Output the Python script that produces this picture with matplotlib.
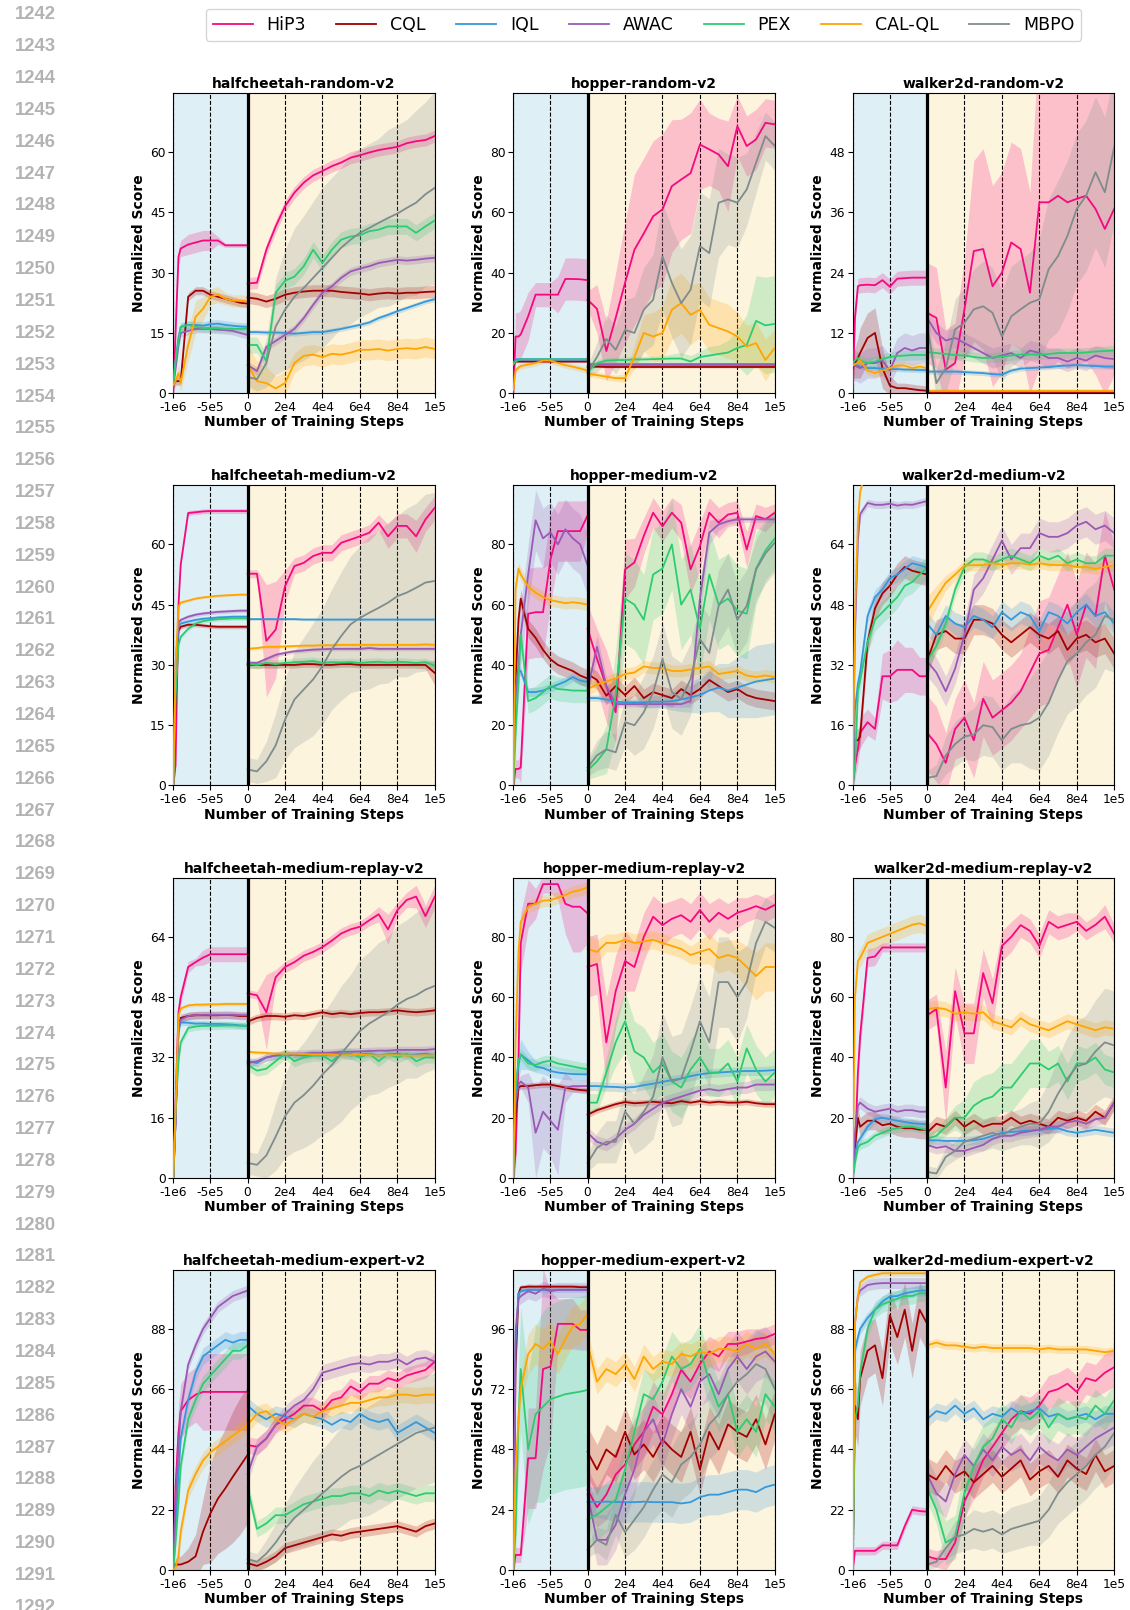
import numpy as np
import matplotlib
matplotlib.use("Agg")
import matplotlib.pyplot as plt
from matplotlib.lines import Line2D

# ---------------------------------------------------------------- categories
METHODS = ["HiP3", "CQL", "IQL", "AWAC", "PEX", "CAL-QL", "MBPO"]
KEYS = ["HIP3", "CQL", "IQL", "AWAC", "PEX", "CALQL", "MBPO"]
COLORS = ["#F7087F", "#A30000", "#3498DB", "#9B59B6", "#2ECC71", "#FFA500", "#7F8C8D"]

TITLES = ["halfcheetah-random-v2", "hopper-random-v2", "walker2d-random-v2",
          "halfcheetah-medium-v2", "hopper-medium-v2", "walker2d-medium-v2",
          "halfcheetah-medium-replay-v2", "hopper-medium-replay-v2", "walker2d-medium-replay-v2",
          "halfcheetah-medium-expert-v2", "hopper-medium-expert-v2", "walker2d-medium-expert-v2"]
ENV_KEYS = ["HCR", "HPR", "WKR", "HCM", "HPM", "WKM", "HCMR", "HPMR", "WKMR", "HCME", "HPME", "WKME"]
Y_STEPS = [15, 20, 12, 15, 20, 16, 16, 20, 20, 22, 24, 22]

X_TICKS = [-1000000, -500000, 0, 20000, 40000, 60000, 80000, 100000]
X_TICK_LABELS = ["-1e6", "-5e5", "0", "2e4", "4e4", "6e4", "8e4", "1e5"]

OFF_X = [-1000000, -970000, -930000, -900000, -800000, -700000, -600000,
         -500000, -400000, -300000, -200000, -100000, 0]
ON_X = [0, 5000, 10000, 15000, 20000, 25000, 30000, 35000, 40000, 45000, 50000,
        55000, 60000, 65000, 70000, 75000, 80000, 85000, 90000, 95000, 100000]

# ---------------------------------------------------------------- halfcheetah-random
HCR_HIP3_OFF = [0, 15, 34, 36, 37, 37.5, 38, 38, 38, 36.8, 36.8, 36.8, 36.8]
HCR_HIP3_OFF_SD = [0.5, 2, 2, 2, 2.5, 2.5, 2.5, 2.5, 1, 0.5, 0.5, 0.5, 0.5]
HCR_HIP3_ON = [27.3, 27.5, 35.7, 41.5, 46.5, 49.9, 52.4, 54.2, 55.3, 56.5, 57.4, 58.6, 59.2, 59.9, 60.5, 60.9, 61.3, 62.2, 62.7, 63.0, 64.0]
HCR_HIP3_ON_SD = 1.5
HCR_CQL_OFF = [2, 3, 3, 3, 24, 25.5, 25.5, 24.5, 24, 23.5, 23, 22.5, 22.3]
HCR_CQL_OFF_SD = 1
HCR_CQL_ON = [23.8, 23.5, 22.8, 23.5, 24.5, 25, 25.3, 25.5, 25.5, 25.5, 25.2, 25, 24.8, 24.5, 24.8, 25, 24.8, 25, 25, 25.2, 25.3]
HCR_CQL_ON_SD = 1.5
HCR_IQL_OFF = [2, 8, 14, 16.5, 17, 17, 16.8, 17.2, 17.3, 17, 16.8, 16.6, 16.5]
HCR_IQL_OFF_SD = 1
HCR_IQL_ON = [15.2, 15.2, 15.1, 15.1, 15.0, 14.8, 15.0, 15.2, 15.2, 15.6, 16.0, 16.5, 17.0, 17.6, 18.7, 19.5, 20.4, 21.2, 22.0, 22.8, 23.4]
HCR_IQL_ON_SD = 0.6
HCR_AWAC_OFF = [2, 6, 12, 15, 15.5, 16, 16, 16, 15.8, 15.7, 15.5, 15, 14.5]
HCR_AWAC_OFF_SD = 1
HCR_AWAC_ON = [7, 5.5, 11.5, 13, 14.5, 16, 18.7, 22, 25, 26.6, 28.7, 30.3, 31, 31.6, 32.4, 32.8, 33.2, 33.0, 33.2, 33.5, 33.7]
HCR_AWAC_ON_SD = 1
HCR_PEX_OFF = [2, 8, 13, 16.5, 17, 16.5, 16.2, 16.2, 16.2, 16, 16, 16, 16]
HCR_PEX_OFF_SD = 1
HCR_PEX_ON = [12, 12, 8, 25, 28, 29, 31.6, 35.7, 32.4, 35.7, 38.2, 39, 39.3, 40.3, 40.7, 41.5, 41.5, 41.5, 39.9, 41.5, 43]
HCR_PEX_ON_SD = 2
HCR_CALQL_OFF = [2, 3, 5, 2.5, 12, 19, 21, 24, 24.5, 23.5, 23, 23, 22.8]
HCR_CALQL_OFF_SD = [1, 1, 2, 2, 4, 4, 3, 2, 2, 1.5, 1.5, 1.5, 1.5]
HCR_CALQL_ON = [7, 3, 2.5, 1.2, 2.5, 7.5, 9.3, 9.6, 9, 9.8, 9.6, 10.1, 10.8, 10.8, 11, 10.6, 11, 11.2, 11, 11.5, 11]
HCR_CALQL_ON_SD = [5, 5, 4, 3, 3, 2.5, 2.5, 2.5, 2.5, 2.5, 2.5, 2.5, 2.5, 2.5, 2.5, 2.5, 2.5, 2.5, 2.5, 2.5, 2.5]
HCR_MBPO_ON = [4, 3.5, 7.5, 16.6, 20.8, 24, 26.2, 28.7, 31.2, 33.7, 36.2, 38.2, 39.9, 41.1, 42.4, 43.6, 44.7, 46.1, 47.4, 49.5, 51.1]
HCR_MBPO_ON_SD = [2, 3, 6, 12, 15, 17, 18, 19, 20, 20, 20, 21, 21, 21, 21, 22, 22, 22, 23, 23, 24]

# ---------------------------------------------------------------- hopper-random
HPR_HIP3_OFF = [0, 18.8, 18.8, 19.5, 25.5, 32.7, 32.7, 32.7, 32.7, 37.9, 37.9, 37.8, 37.5]
HPR_HIP3_OFF_SD = [1, 8, 8, 8, 8, 4, 4, 4, 6, 7, 7, 7, 7]
HPR_HIP3_ON = [31, 28, 14, 25, 36.6, 47.6, 53, 58.7, 61, 68.7, 70.9, 73, 82.5, 80.9, 79.2, 75.3, 88.6, 82, 84.2, 89.7, 89.2]
HPR_HIP3_ON_SD = [3, 8, 10, 15, 20, 25, 25, 25, 25, 22, 20, 20, 15, 12, 12, 15, 10, 10, 10, 8, 8]
HPR_CQL_OFF = [9, 10.5, 10.5, 10.5, 10.5, 10.5, 10.5, 10.5, 10.5, 10.5, 10.5, 10.5, 10.5]
HPR_CQL_OFF_SD = 0.3
HPR_CQL_ON = [8.8, 8.8, 8.7, 8.7, 8.7, 8.7, 8.7, 8.7, 8.7, 8.7, 8.7, 8.7, 8.7, 8.7, 8.7, 8.7, 8.7, 8.7, 8.7, 8.7, 8.7]
HPR_CQL_ON_SD = 0.3
HPR_IQL_OFF = [10, 11.2, 11.3, 11.3, 11.3, 11.3, 11.3, 11.3, 11.3, 11.3, 11.3, 11.3, 11.3]
HPR_IQL_OFF_SD = 0.3
HPR_IQL_ON = [9.7, 9.7, 9.7, 9.7, 9.7, 9.7, 9.7, 9.7, 9.7, 9.7, 9.7, 9.7, 9.7, 9.7, 9.7, 9.7, 9.7, 9.7, 9.7, 9.7, 9.7]
HPR_IQL_ON_SD = 0.3
HPR_AWAC_OFF = [10, 10.8, 11, 11, 11, 11, 11, 11, 11, 11, 11, 11, 11]
HPR_AWAC_OFF_SD = 0.3
HPR_AWAC_ON = [9.3, 9.3, 9.3, 9.3, 9.3, 9.3, 9.3, 9.3, 9.3, 9.3, 9.3, 9.3, 9.3, 9.3, 9.3, 9.3, 9.3, 9.3, 9.3, 9.3, 9.3]
HPR_AWAC_ON_SD = 0.3
HPR_PEX_OFF = [9.5, 10.5, 11, 11.2, 11.2, 11.2, 11.2, 11.2, 11.2, 11.2, 11.2, 11.2, 11.2]
HPR_PEX_OFF_SD = 0.4
HPR_PEX_ON = [7, 10, 10.8, 11, 11, 11.2, 11.2, 11.3, 11.4, 11.5, 11.5, 10.5, 12, 12.5, 13, 13.5, 15, 16, 24, 22.5, 23]
HPR_PEX_ON_SD = [1, 1, 1, 1, 1, 1, 1, 1, 1, 1.5, 2, 2, 2, 3, 3, 4, 6, 10, 15, 16, 16]
HPR_CALQL_OFF = [1, 7.5, 8.5, 9, 9.5, 10, 10.8, 10.8, 10, 9.3, 8.8, 8.2, 7.5]
HPR_CALQL_OFF_SD = 1
HPR_CALQL_ON = [6.5, 6, 5.5, 5, 5, 12, 20, 18.8, 20, 27.7, 29.9, 26, 27.7, 22.7, 21.6, 20.5, 18.8, 15.5, 16.6, 11, 15]
HPR_CALQL_ON_SD = [1, 1, 1, 1, 1.5, 4, 6, 8, 9, 10, 10, 10, 9, 9, 9, 9, 8, 7, 7, 7, 6]
HPR_MBPO_ON = [7, 12, 18, 14.4, 21, 20, 27.7, 31, 45.4, 36.6, 29.9, 34.3, 48.8, 46.5, 63.2, 64.3, 63.2, 67.6, 76.5, 85.3, 82]
HPR_MBPO_ON_SD = [2, 5, 8, 8, 10, 12, 14, 15, 18, 18, 18, 18, 18, 18, 18, 15, 15, 12, 10, 8, 8]

# ---------------------------------------------------------------- walker2d-random
WKR_HIP3_OFF = [0, 15, 21.3, 21.5, 21.6, 21.5, 22.5, 21.2, 22.8, 22.9, 23, 23, 23]
WKR_HIP3_OFF_SD = 1.5
WKR_HIP3_ON = [16, 15, 4.7, 6, 16.7, 28.3, 28.7, 21.3, 24, 30, 28.7, 20, 38, 38, 39.3, 38, 38.7, 39.3, 36.7, 32.7, 36.7]
WKR_HIP3_ON_SD = [10, 10, 8, 8, 10, 18, 20, 20, 20, 20, 20, 20, 33, 33, 33, 33, 33, 33, 33, 33, 33]
WKR_CQL_OFF = [5, 6, 7, 8, 11, 12, 5, 1.5, 1, 1, 0.8, 0.6, 0.5]
WKR_CQL_OFF_SD = [2, 3, 4, 5, 5, 5, 4, 2, 1, 1, 1, 1, 1]
WKR_CQL_ON = [0.3, 0.3, 0.3, 0.3, 0.3, 0.3, 0.3, 0.3, 0.3, 0.3, 0.3, 0.3, 0.3, 0.3, 0.3, 0.3, 0.3, 0.3, 0.3, 0.3, 0.3]
WKR_CQL_ON_SD = 0.3
WKR_IQL_OFF = [6, 5.8, 5.5, 5.3, 5, 5, 4.9, 4.8, 4.8, 4.7, 4.7, 4.6, 4.6]
WKR_IQL_OFF_SD = 0.5
WKR_IQL_ON = [4.3, 4.3, 4.3, 4.3, 4.2, 4.1, 4.0, 3.8, 3.7, 4.5, 4.9, 5.0, 5.1, 5.2, 5.4, 5.5, 5.6, 5.5, 5.4, 5.3, 5.3]
WKR_IQL_ON_SD = 0.5
WKR_AWAC_OFF = [5.5, 5.5, 5.2, 5, 6, 6, 6.5, 4.5, 8, 9, 8.5, 9, 9]
WKR_AWAC_OFF_SD = 3
WKR_AWAC_ON = [15, 12, 10.5, 11, 10, 9, 8, 7, 7.5, 8, 7, 8.5, 8, 7, 7, 6.3, 7, 6.5, 7.5, 7, 6.8]
WKR_AWAC_ON_SD = 2
WKR_PEX_OFF = [6, 6.5, 7, 6.5, 6, 6.3, 6.8, 7.2, 7.4, 7.5, 7.6, 7.6, 7.6]
WKR_PEX_OFF_SD = 1
WKR_PEX_ON = [8.2, 8, 7.8, 7.6, 7.5, 7.2, 7, 7.1, 7.3, 7.5, 7.7, 7.7, 7.7, 7.8, 8, 8, 8, 8.1, 8.3, 8.4, 8.5]
WKR_PEX_ON_SD = 1
WKR_CALQL_OFF = [5.5, 5.8, 6, 6.5, 4.5, 4, 4.5, 5, 5.5, 5.5, 5, 5.3, 5]
WKR_CALQL_OFF_SD = 0.8
WKR_CALQL_ON = [0.4, 0.4, 0.4, 0.4, 0.4, 0.4, 0.4, 0.4, 0.4, 0.4, 0.4, 0.4, 0.4, 0.4, 0.4, 0.4, 0.4, 0.4, 0.4, 0.4, 0.4]
WKR_CALQL_ON_SD = 0.5
WKR_MBPO_ON = [14, 2, 5, 12.7, 14, 16.7, 17.3, 16, 11.3, 15.3, 16.7, 18, 18.7, 24.7, 27.3, 31.3, 36.7, 39.3, 44, 40, 49]
WKR_MBPO_ON_SD = [3, 3, 5, 6, 7, 8, 9, 9, 9, 10, 10, 10, 12, 14, 15, 15, 15, 15, 15, 15, 15]

# ---------------------------------------------------------------- halfcheetah-medium
HCM_HIP3_OFF = [0, 5, 45, 55, 67.8, 68, 68.2, 68.3, 68.3, 68.3, 68.3, 68.3, 68.3]
HCM_HIP3_OFF_SD = 0.6
HCM_HIP3_ON = [52.7, 52.7, 36, 38.8, 49.6, 54.6, 55.4, 57.1, 57.9, 57.9, 60.4, 61.2, 62, 62.9, 65.4, 62, 64.6, 64.6, 62, 66.2, 69.1]
HCM_HIP3_ON_SD = [1, 1, 14, 12, 4, 2, 2, 2, 2, 2, 2, 2, 2, 2, 2, 3, 3, 3, 4, 3, 3]
HCM_CQL_OFF = [0, 20, 38.5, 39.5, 40, 40, 39.8, 39.6, 39.5, 39.5, 39.5, 39.5, 39.5]
HCM_CQL_OFF_SD = 0.5
HCM_CQL_ON = [30, 30, 30, 30, 30, 30, 30.2, 30.2, 30, 30, 30.2, 30.2, 30, 30, 30, 30, 30, 30, 30, 30, 28]
HCM_CQL_ON_SD = [0.8, 0.8, 0.8, 0.8, 0.8, 0.8, 0.8, 0.8, 0.8, 0.8, 0.8, 0.8, 0.8, 0.8, 0.8, 0.8, 0.8, 0.8, 0.8, 1, 3]
HCM_IQL_OFF = [0, 25, 39.5, 40.3, 40.8, 41.2, 41.5, 41.6, 41.8, 41.9, 42, 42, 42]
HCM_IQL_OFF_SD = 0.5
HCM_IQL_ON = [41.4, 41.4, 41.4, 41.4, 41.4, 41.4, 41.3, 41.3, 41.3, 41.3, 41.3, 41.3, 41.3, 41.3, 41.3, 41.3, 41.3, 41.3, 41.3, 41.3, 41.3]
HCM_IQL_ON_SD = 0.3
HCM_AWAC_OFF = [0, 30, 40.5, 41.2, 42, 42.5, 42.8, 43, 43.2, 43.3, 43.4, 43.5, 43.5]
HCM_AWAC_OFF_SD = 0.5
HCM_AWAC_ON = [30.5, 30.5, 31.5, 32.5, 33, 33.4, 33.6, 33.8, 33.9, 34, 34, 34, 34, 34.2, 34, 34, 34, 34, 34, 34, 34]
HCM_AWAC_ON_SD = 0.5
HCM_PEX_OFF = [0, 22, 35, 37, 39, 40.3, 40.9, 41.2, 41.4, 41.5, 41.6, 41.6, 41.6]
HCM_PEX_OFF_SD = 0.5
HCM_PEX_ON = [30.3, 30, 30.5, 30.2, 30.5, 30.7, 30.8, 31, 30.5, 30.7, 30.6, 30.7, 30.5, 30.7, 30.8, 30.6, 30.8, 30.7, 30.5, 30.7, 29.8]
HCM_PEX_ON_SD = 1
HCM_CALQL_OFF = [0, 30, 44.5, 45.5, 46, 46.5, 46.8, 47, 47.2, 47.3, 47.4, 47.5, 47.5]
HCM_CALQL_OFF_SD = 0.3
HCM_CALQL_ON = [34, 34.2, 34.5, 34.5, 34.6, 34.7, 34.8, 34.8, 34.9, 34.9, 35, 35, 35, 35, 35, 35, 35, 35, 35, 35.1, 35]
HCM_CALQL_ON_SD = 0.4
HCM_MBPO_ON = [4, 3.5, 6, 10, 16.4, 21.4, 23.9, 26.4, 29.7, 33.9, 37.2, 40.1, 41.7, 43, 44.2, 45.5, 47.1, 48, 49.2, 50.5, 50.9]
HCM_MBPO_ON_SD = [3, 3, 5, 8, 10, 12, 13, 14, 14.5, 15, 16, 17, 18, 19, 19, 20, 20, 21, 21, 22, 22]

# ---------------------------------------------------------------- hopper-medium
HPM_HIP3_OFF = [0, 5.5, 5.5, 6, 57, 57.5, 57.5, 75, 84.4, 84.4, 84.4, 84.4, 89.6]
HPM_HIP3_OFF_SD = [2, 3, 3, 5, 15, 15, 15, 15, 10, 10, 10, 10, 5]
HPM_HIP3_ON = [52, 42, 33, 24.3, 71.7, 74, 82.8, 90.5, 86, 90.5, 87.2, 71.7, 79.4, 90.5, 87.2, 89.9, 90.5, 78.3, 89.4, 88.3, 90.5]
HPM_HIP3_ON_SD = [8, 10, 12, 10, 10, 8, 6, 5, 5, 5, 6, 8, 8, 5, 5, 4, 4, 6, 4, 4, 3]
HPM_CQL_OFF = [0, 35, 55, 62, 52, 49, 45, 41.9, 40, 39, 38, 36.5, 35.5]
HPM_CQL_OFF_SD = 3
HPM_CQL_ON = [37, 35, 29.8, 33, 30, 33, 29, 31, 30, 29, 32, 30, 32, 35, 33, 31, 32, 30, 29, 28.5, 28]
HPM_CQL_ON_SD = 3
HPM_IQL_OFF = [0, 30, 38, 38, 31, 31, 31.5, 32.5, 33.5, 34.5, 36, 34.8, 34.4]
HPM_IQL_OFF_SD = 1.5
HPM_IQL_ON = [29, 29, 28.5, 27.8, 27.6, 27.6, 27.6, 27.8, 27.8, 28, 28.5, 29.3, 30, 31.5, 32.5, 31.5, 32.5, 33.5, 34.5, 35, 35.5]
HPM_IQL_ON_SD = [1, 1, 1, 1, 1, 1, 2, 2, 2, 3, 4, 5, 6, 7, 8, 9, 10, 11, 12, 12, 12]
HPM_AWAC_OFF = [0, 30, 40, 50, 70, 88, 82, 84, 80, 85, 82, 80, 73]
HPM_AWAC_OFF_SD = 10
HPM_AWAC_ON = [32, 46, 33, 27, 27, 27, 27, 27, 27, 27, 27, 28, 62, 83.9, 86.6, 87.7, 88.3, 88.3, 88.3, 88.3, 88.3]
HPM_AWAC_ON_SD = [2, 4, 3, 1, 1, 1, 1, 1, 1, 1, 1, 2, 6, 4, 2, 1, 1, 1, 1, 1, 1]
HPM_PEX_OFF = [0, 17, 35, 50, 28, 29, 31, 33, 32, 31.8, 31.5, 31.5, 31.4]
HPM_PEX_OFF_SD = 4
HPM_PEX_ON = [5, 8, 12, 30, 62, 60, 55, 70, 72, 80, 60, 65, 52, 70, 60, 62, 58, 57, 72, 78, 82]
HPM_PEX_ON_SD = [3, 5, 8, 15, 15, 15, 15, 15, 15, 15, 15, 15, 15, 15, 15, 15, 15, 15, 12, 10, 10]
HPM_CALQL_OFF = [0, 65, 72, 70, 66, 64, 62.5, 61.5, 61, 60.5, 60.8, 60.5, 60]
HPM_CALQL_OFF_SD = 2
HPM_CALQL_ON = [32, 33.5, 34.5, 35.5, 37, 37.5, 39.5, 39, 39, 38, 38, 38.5, 39, 39.5, 37, 37.5, 38, 36.5, 36, 36.5, 36]
HPM_CALQL_ON_SD = 2
HPM_MBPO_ON = [6, 10, 12, 11, 21, 20, 24.3, 30.9, 42, 31, 28.7, 35.3, 48.6, 44, 59.6, 65, 55, 59.6, 71.7, 77, 80.6]
HPM_MBPO_ON_SD = [3, 5, 6, 6, 8, 10, 12, 12, 12, 12, 12, 12, 12, 12, 12, 12, 12, 12, 10, 10, 10]

# ---------------------------------------------------------------- walker2d-medium
WKM_HIP3_OFF = [0, 5, 9.7, 14, 16.8, 15, 29, 29, 30.7, 30.7, 30.7, 29, 29]
WKM_HIP3_OFF_SD = [2, 3, 4, 4, 3.5, 3, 6, 7, 8, 6, 6, 5, 5]
WKM_HIP3_ON = [14, 11, 6, 15, 18, 12, 23, 18, 20, 22, 25, 30, 35, 36, 42, 48, 40, 48, 45, 61, 52]
WKM_HIP3_ON_SD = [10, 10, 8, 8, 10, 10, 10, 10, 10, 10, 10, 12, 14, 14, 14, 14, 14, 14, 14, 12, 12]
WKM_CQL_OFF = [0, 12, 12, 13, 38, 47, 51, 53, 56, 58, 57, 56.5, 56]
WKM_CQL_OFF_SD = 3
WKM_CQL_ON = [33, 40, 41, 39, 39, 44, 44, 43, 40, 38, 40, 42, 40, 39, 41, 36, 39, 40, 38, 39, 35]
WKM_CQL_ON_SD = 4
WKM_IQL_OFF = [0, 20, 27, 30, 45, 50, 52, 55, 56, 57.5, 59, 58.5, 57.8]
WKM_IQL_OFF_SD = 2
WKM_IQL_ON = [43, 40, 45, 43, 42, 45, 44, 42, 46, 44, 46, 45, 41, 46, 45, 43, 46, 48, 45, 46, 43]
WKM_IQL_ON_SD = 3
WKM_AWAC_OFF = [0, 40, 65, 72, 75, 74.5, 74.5, 74.8, 74.3, 74.6, 74.5, 75, 75.5]
WKM_AWAC_OFF_SD = 1
WKM_AWAC_ON = [33, 30, 25, 31, 40, 52, 55, 60, 65, 60, 63, 63, 67, 66, 66, 67, 69, 70, 68, 69, 67]
WKM_AWAC_ON_SD = 4
WKM_PEX_OFF = [0, 5, 25, 28, 38, 44, 46, 48, 50, 53, 54, 56, 57.8]
WKM_PEX_OFF_SD = 3
WKM_PEX_ON = [33, 37, 43, 52, 58, 60, 60, 59, 60, 61, 60, 59, 61, 60, 61, 59, 60, 59, 59, 61, 61]
WKM_PEX_ON_SD = 2
WKM_CALQL_OFF = [0, 45, 70, 78, 85, 86, 86, 86, 86, 86, 86, 86, 86]
WKM_CALQL_OFF_SD = 1
WKM_CALQL_ON = [46, 50, 53.8, 56, 58.4, 58.5, 58.5, 59, 58.6, 59, 59, 58.6, 59, 58.6, 58.5, 58.5, 58, 58, 57.5, 58, 58.5]
WKM_CALQL_ON_SD = [4, 3, 2, 1.5, 1.5, 1.5, 1.5, 1.5, 1.5, 1.5, 1.5, 1.5, 1.5, 1.5, 1.5, 1.5, 1.5, 1.5, 1.5, 1.5, 1.5]
WKM_MBPO_ON = [2, 2.5, 8, 11, 13, 13.5, 16, 15.5, 12, 15, 16, 16.5, 18, 22, 28, 33, 35, 38, 40, 45, 44]
WKM_MBPO_ON_SD = [2, 3, 5, 6, 6, 7, 8, 8, 8, 9, 10, 12, 14, 14, 14, 14, 14, 14, 14, 14, 14]

# ---------------------------------------------------------------- halfcheetah-medium-replay
HCMR_HIP3_OFF = [0, 20, 44, 48, 56, 57.3, 58.5, 59.4, 59.4, 59.4, 59.4, 59.4, 59.4]
HCMR_HIP3_OFF_SD = [1, 3, 3, 2, 1.5, 1, 2, 2, 2, 2, 2, 2, 2]
HCMR_HIP3_ON = [49, 48.5, 44, 53.3, 56, 57.3, 59, 60, 61.3, 63, 64.9, 66, 66.7, 68.4, 70, 66, 71.1, 73.8, 74.7, 69.5, 74.7]
HCMR_HIP3_ON_SD = [1, 1, 10, 2, 1.5, 1.5, 1.5, 1.5, 1.5, 1.5, 1.5, 1.5, 1.5, 1.5, 2, 4, 2, 2, 3, 3, 3]
HCMR_CQL_OFF = [0, 15, 40, 42.5, 43, 43.2, 43.2, 43.2, 43.2, 43.3, 43.2, 43, 43]
HCMR_CQL_OFF_SD = 1
HCMR_CQL_ON = [41.5, 42.5, 43, 43, 42.8, 43.2, 43, 43.5, 44, 43.5, 43.8, 43.5, 43.8, 44, 44, 44.2, 44.5, 44.2, 44, 44.2, 44.5]
HCMR_CQL_ON_SD = 1
HCMR_IQL_OFF = [0, 15, 39, 41.3, 41.2, 41, 41, 40.9, 40.9, 40.8, 40.7, 40.5, 40.4]
HCMR_IQL_OFF_SD = 0.8
HCMR_IQL_ON = [31, 30.5, 32, 32.5, 32.5, 32.7, 32.5, 32.8, 32.5, 32.8, 33, 32.5, 32.8, 33, 32.5, 32.8, 33, 32.5, 32.8, 33, 32.5]
HCMR_IQL_ON_SD = 1
HCMR_AWAC_OFF = [0, 15, 40, 42, 43, 43.2, 43.3, 43.3, 43.3, 43.3, 43.3, 43.2, 43.2]
HCMR_AWAC_OFF_SD = 1
HCMR_AWAC_ON = [30.5, 31, 32, 32.5, 33, 33, 33, 33.2, 33.2, 33.3, 33.5, 33.5, 33.6, 33.7, 33.8, 33.8, 34, 34, 34, 34, 34.2]
HCMR_AWAC_ON_SD = 1
HCMR_PEX_OFF = [0, 18, 31, 36, 39.8, 40.2, 40.4, 40.4, 40.4, 40.5, 40.5, 40.4, 40.4]
HCMR_PEX_OFF_SD = 1
HCMR_PEX_ON = [30, 28.5, 29, 31, 33, 31, 32, 32.5, 32.5, 31, 33, 33, 32, 33, 31, 33, 32, 33, 31, 32, 32]
HCMR_PEX_ON_SD = 1.5
HCMR_CALQL_OFF = [0, 18, 43, 45, 45.8, 46, 46, 46.1, 46.1, 46.2, 46.2, 46.2, 46.2]
HCMR_CALQL_OFF_SD = 0.5
HCMR_CALQL_ON = [33.5, 33.3, 33.2, 33, 33, 33, 32.9, 32.8, 32.8, 32.7, 32.6, 32.6, 32.8, 32.6, 32.5, 32.6, 32.6, 32.5, 32.5, 32.6, 32.5]
HCMR_CALQL_ON_SD = 0.5
HCMR_MBPO_ON = [4, 3.5, 6, 11, 16.4, 20, 22, 24.5, 27.5, 30, 33, 36, 39, 41, 42.5, 44, 46, 47.5, 48.5, 50, 51]
HCMR_MBPO_ON_SD = [3, 3, 6, 9, 11, 13, 14, 15, 16, 17, 18, 18, 19, 19, 20, 20, 21, 21, 22, 22, 22]

# ---------------------------------------------------------------- hopper-medium-replay
HPMR_HIP3_OFF = [0, 8, 40, 78, 91, 91, 97.5, 97.5, 97.5, 91, 90, 90, 87.8]
HPMR_HIP3_OFF_SD = [2, 5, 10, 10, 8, 5, 3, 3, 5, 10, 15, 15, 10]
HPMR_HIP3_ON = [70, 71, 45, 62, 72, 70, 80, 86.7, 83.9, 86, 87.2, 85, 88.9, 85, 88, 86, 88, 89, 90.2, 89, 90.6]
HPMR_HIP3_ON_SD = [10, 10, 15, 12, 10, 8, 8, 7, 7, 6, 6, 6, 6, 6, 5, 5, 5, 4, 4, 4, 4]
HPMR_CQL_OFF = [0, 20, 30, 30.5, 30.5, 30.8, 31, 31, 30.5, 30, 29.5, 29.2, 29]
HPMR_CQL_OFF_SD = 1
HPMR_CQL_ON = [21, 22.5, 23.5, 24.5, 25.2, 24.8, 25, 25.3, 25, 24.8, 25.5, 25, 25.5, 25, 25.3, 25, 25, 25.3, 24.8, 24.5, 24.5]
HPMR_CQL_ON_SD = 1
HPMR_IQL_OFF = [0, 28, 38, 41, 39, 37, 36.5, 35.5, 35, 34.7, 34.5, 34.4, 34.4]
HPMR_IQL_OFF_SD = [2, 5, 5, 5, 3, 2, 2, 2, 2, 2, 2, 2, 2]
HPMR_IQL_ON = [30.5, 30.5, 30.3, 30.2, 30, 30.2, 30.8, 31.3, 31.9, 32.5, 33, 33.8, 34.4, 34.8, 35, 35.2, 35.4, 35.5, 35.5, 35.6, 35.8]
HPMR_IQL_ON_SD = 1.5
HPMR_AWAC_OFF = [0, 25, 31, 32, 30, 15, 22, 19, 16, 30, 30.5, 30.5, 30.5]
HPMR_AWAC_OFF_SD = [2, 3, 2, 2, 5, 15, 12, 12, 15, 5, 2, 2, 2]
HPMR_AWAC_ON = [15, 12, 11, 13, 16, 18, 21, 23, 25, 26, 27, 28, 29, 29.5, 29, 29.5, 30, 30, 31, 31, 31]
HPMR_AWAC_ON_SD = 2
HPMR_PEX_OFF = [0, 30, 39, 41, 38, 37.5, 38.5, 38.9, 38, 37.5, 37, 36.5, 36.1]
HPMR_PEX_OFF_SD = 2
HPMR_PEX_ON = [25, 25, 35, 45, 52, 42, 40, 35, 38, 32, 30, 36, 40, 35, 35, 38, 32, 43, 36, 32, 35]
HPMR_PEX_ON_SD = [3, 3, 5, 8, 10, 10, 10, 10, 10, 10, 10, 10, 10, 8, 8, 8, 8, 8, 8, 8, 8]
HPMR_CALQL_OFF = [0, 45, 75, 85, 90, 91, 92, 92.2, 93, 93.9, 95, 95.5, 96.5]
HPMR_CALQL_OFF_SD = 2
HPMR_CALQL_ON = [76, 75, 78, 78, 79, 78, 78.5, 79, 78, 77, 76, 74, 75, 76, 73, 74, 73, 70, 67, 70, 70]
HPMR_CALQL_ON_SD = [5, 4, 3, 3, 3, 3, 3, 3, 3, 3, 3, 3, 4, 5, 5, 5, 6, 7, 8, 8, 8]
HPMR_MBPO_ON = [5, 10, 12, 12, 22, 18, 22, 27, 40, 32, 33, 42, 52, 45, 65, 65, 60, 65, 78, 85, 83]
HPMR_MBPO_ON_SD = [3, 5, 7, 7, 8, 10, 12, 14, 15, 15, 15, 15, 15, 15, 15, 15, 15, 12, 10, 8, 8]

# ---------------------------------------------------------------- walker2d-medium-replay
WKMR_HIP3_OFF = [0, 8, 35, 47, 73, 73.5, 76.5, 76.5, 76.5, 76.5, 76.5, 76.5, 76.5]
WKMR_HIP3_OFF_SD = [1, 5, 5, 5, 3, 3, 1.5, 1.5, 1.5, 1.5, 1.5, 1.5, 1.5]
WKMR_HIP3_ON = [54, 56, 30, 62, 48, 48, 68, 58, 77, 80, 83.9, 82, 77, 85, 83, 84, 85, 82, 84, 86.7, 81]
WKMR_HIP3_ON_SD = [5, 5, 12, 8, 10, 10, 8, 8, 5, 5, 4, 4, 4, 4, 4, 4, 3, 3, 3, 4, 3]
WKMR_CQL_OFF = [0, 10, 20, 17, 19, 19, 17.5, 18, 17, 16.5, 16.5, 16, 16]
WKMR_CQL_OFF_SD = 3
WKMR_CQL_ON = [15, 18, 17, 20, 17, 19, 17, 18, 18, 20, 18, 19, 18, 17, 20, 19, 20, 19, 22, 20, 25]
WKMR_CQL_ON_SD = 2.5
WKMR_IQL_OFF = [0, 8, 12, 13, 17, 19.5, 20, 19.5, 19, 18.6, 18.2, 18, 17.8]
WKMR_IQL_OFF_SD = 1.5
WKMR_IQL_ON = [12.5, 12.5, 12.3, 12.3, 12.3, 12.5, 13, 14, 15, 15.3, 15.5, 15.8, 16, 16.3, 16.5, 15.5, 15, 15.5, 16, 15.5, 15]
WKMR_IQL_ON_SD = 1.5
WKMR_AWAC_OFF = [0, 15, 24, 25, 23, 22, 22.5, 23, 22, 22.5, 22.5, 22, 22]
WKMR_AWAC_OFF_SD = 2
WKMR_AWAC_ON = [11, 10, 10.5, 9, 9, 10, 11, 13, 14, 14, 15, 15.5, 16, 17, 17, 18.5, 19, 18, 19.5, 20, 25]
WKMR_AWAC_ON_SD = 2
WKMR_PEX_OFF = [0, 5, 10, 11, 12, 14, 15, 16, 16.5, 17, 17, 16.5, 16]
WKMR_PEX_OFF_SD = 1.5
WKMR_PEX_ON = [13, 14, 17, 20, 20, 24, 26, 27, 30, 30, 34, 38, 38, 36, 38, 32, 38, 38, 40, 36, 35]
WKMR_PEX_ON_SD = [2, 2, 3, 4, 6, 8, 8, 8, 8, 8, 8, 8, 8, 6, 6, 6, 6, 5, 5, 5, 5]
WKMR_CALQL_OFF = [0, 60, 72, 73, 78, 79, 80, 81, 82, 83, 84, 84.5, 83.6]
WKMR_CALQL_OFF_SD = 3
WKMR_CALQL_ON = [56, 56.5, 56, 54.5, 55, 54.5, 55, 52, 51, 50, 53, 51, 50, 49, 50.5, 52, 51, 50, 49, 50, 49.5]
WKMR_CALQL_ON_SD = 2.5
WKMR_MBPO_ON = [2, 1.5, 7, 9, 12, 13, 14, 15, 14, 16, 17, 18, 18, 22, 28, 33, 37, 38, 42, 45, 44]
WKMR_MBPO_ON_SD = [2, 2, 3, 3, 4, 4, 5, 5, 5, 6, 6, 7, 8, 10, 12, 14, 15, 16, 17, 18, 18]

# ---------------------------------------------------------------- halfcheetah-medium-expert
HCME_HIP3_OFF = [0, 30, 50, 58, 62, 64, 65, 65, 65, 65, 65, 65, 65]
HCME_HIP3_OFF_SD = [3, 10, 10, 10, 10, 10, 14, 14, 14, 14, 14, 14, 14]
HCME_HIP3_ON = [45.6, 45, 48, 53, 55, 57, 60, 60, 58, 62, 63, 67, 65, 68, 68, 70, 69, 71, 72, 73, 76]
HCME_HIP3_ON_SD = 3
HCME_CQL_OFF = [0, 2, 2, 2, 3, 5, 14, 20.7, 26, 29.8, 34, 38, 42]
HCME_CQL_OFF_SD = [1, 2, 3, 3, 5, 8, 12, 18, 20, 22, 24, 25, 25]
HCME_CQL_ON = [2.5, 1.5, 3, 5, 8, 9, 10, 11, 12, 13, 12.5, 13.5, 14, 14.5, 15, 15.5, 16, 15, 14, 16, 17]
HCME_CQL_ON_SD = 2
HCME_IQL_OFF = [0, 15, 35, 48, 62, 72, 78, 80, 82, 84, 83, 84, 84]
HCME_IQL_OFF_SD = 3
HCME_IQL_ON = [60, 57, 55, 57, 56, 55, 57, 56, 55, 53, 55, 54, 57, 55, 54, 55, 50, 52, 54, 52, 50]
HCME_IQL_ON_SD = 3
HCME_AWAC_OFF = [0, 25, 45, 58, 75, 82, 88, 92, 96, 98, 100, 101, 102]
HCME_AWAC_OFF_SD = 2
HCME_AWAC_ON = [35, 45, 48, 53, 57, 60, 62, 66, 72, 73, 74, 75, 75.5, 75, 76, 76, 77, 75, 77, 77.5, 76]
HCME_AWAC_ON_SD = 3
HCME_PEX_OFF = [0, 10, 25, 38, 55, 62, 68, 71, 74, 77, 80, 80, 82]
HCME_PEX_OFF_SD = 3
HCME_PEX_ON = [30, 15, 17, 20, 20, 22, 24, 25, 26, 27, 27, 28, 28, 27, 29, 28, 29, 28, 27, 28, 28]
HCME_PEX_ON_SD = 3
HCME_CALQL_OFF = [0, 1, 5, 14, 29, 35, 40, 43, 45, 47, 49, 51, 53]
HCME_CALQL_OFF_SD = 3
HCME_CALQL_ON = [53, 57, 58, 55, 53, 55, 57, 56, 58, 59, 60, 61, 61, 62, 63, 63, 64, 64, 63.5, 64, 64]
HCME_CALQL_ON_SD = 3
HCME_MBPO_ON = [4, 3, 6, 10, 15, 19, 22, 25, 28, 31, 34, 36.5, 38, 40, 42, 44, 46, 48, 50, 51, 52]
HCME_MBPO_ON_SD = [3, 3, 5, 7, 9, 11, 13, 15, 16, 17, 18, 18, 19, 20, 20, 20, 20, 20, 20, 20, 20]

# ---------------------------------------------------------------- hopper-medium-expert
HPME_HIP3_OFF = [0, 6, 6, 6, 44.5, 44.5, 80, 81, 98, 98, 98, 95.6, 95.6]
HPME_HIP3_OFF_SD = [2, 3, 3, 3, 20, 20, 40, 30, 10, 10, 10, 8, 8]
HPME_HIP3_ON = [32, 25, 30, 38, 42, 50, 55, 65, 62, 70, 79.7, 75, 82, 87, 85, 90, 90, 91, 92, 92.5, 94]
HPME_HIP3_ON_SD = [8, 8, 10, 10, 10, 10, 10, 10, 8, 8, 8, 7, 7, 6, 6, 5, 5, 5, 4, 4, 4]
HPME_CQL_OFF = [0, 80, 110, 112.5, 112.8, 112.8, 112.8, 112.8, 112.8, 112.8, 112.8, 112.6, 112.6]
HPME_CQL_OFF_SD = 1
HPME_CQL_ON = [47, 40, 48, 45, 55, 46, 50, 45, 52, 48, 45, 55, 40, 55, 48, 58, 55, 53, 60, 50, 62]
HPME_CQL_ON_SD = 10
HPME_IQL_OFF = [0, 90, 110, 111, 111.5, 111.5, 111.5, 111.5, 111.5, 111.5, 111.5, 111.5, 111.5]
HPME_IQL_OFF_SD = 1
HPME_IQL_ON = [27.1, 27.1, 27.2, 27.1, 27, 27, 27.2, 27, 27, 27, 26.5, 27, 29, 30, 30, 31, 32, 32, 31, 33, 34]
HPME_IQL_ON_SD = [6, 6, 7, 8, 8, 8, 8, 8, 8, 8, 8, 8, 8, 8, 8, 8, 8, 8, 8, 8, 8]
HPME_AWAC_OFF = [0, 95, 108, 109, 111, 110, 112, 111, 111.5, 111.5, 111.5, 111.5, 111.5]
HPME_AWAC_OFF_SD = 3
HPME_AWAC_ON = [30, 12, 12, 18, 30, 40, 55, 60, 50, 62, 72, 65, 75, 78, 70, 80, 85, 80, 85, 87, 83]
HPME_AWAC_ON_SD = 10
HPME_PEX_OFF = [0, 15, 60, 80, 48, 62, 65, 68, 69, 70, 70.5, 71, 71.7]
HPME_PEX_OFF_SD = [3, 10, 20, 25, 30, 35, 38, 38, 38, 38, 38, 38, 38]
HPME_PEX_ON = [20, 22, 25, 28, 40, 55, 70, 68, 75, 85, 80, 82, 88, 75, 65, 70, 55, 60, 55, 70, 65]
HPME_PEX_ON_SD = 10
HPME_CALQL_OFF = [0, 40, 60, 72, 86, 90, 88, 91, 86, 92, 97, 98, 102]
HPME_CALQL_OFF_SD = [3, 5, 5, 5, 8, 8, 8, 8, 8, 8, 8, 8, 8]
HPME_CALQL_ON = [90, 75, 80, 78, 82, 76, 85, 80, 83, 82, 86, 85, 87, 86, 88, 88, 87, 90, 88, 90, 86]
HPME_CALQL_ON_SD = 5
HPME_MBPO_ON = [8, 12, 10, 22, 15, 20, 25, 32, 38, 35, 42, 45, 50, 58, 62, 70, 75, 78, 82, 80, 72]
HPME_MBPO_ON_SD = [3, 5, 6, 8, 10, 12, 12, 12, 14, 14, 14, 14, 14, 14, 14, 14, 14, 14, 14, 14, 14]

# ---------------------------------------------------------------- walker2d-medium-expert
WKME_HIP3_OFF = [0, 7, 7, 7, 7, 7, 9, 9, 9, 16, 22, 21.5, 21.3]
WKME_HIP3_OFF_SD = 1.5
WKME_HIP3_ON = [5, 4, 4, 10, 25, 32, 40.2, 45, 50, 55, 58, 57, 60, 65, 66, 68, 65, 70, 69, 72, 74]
WKME_HIP3_ON_SD = [3, 3, 4, 5, 6, 6, 6, 6, 6, 6, 6, 6, 6, 6, 6, 6, 6, 6, 6, 7, 7]
WKME_CQL_OFF = [0, 60, 55, 70, 80, 82, 70, 93, 85, 95, 80, 95, 90]
WKME_CQL_OFF_SD = 10
WKME_CQL_ON = [35, 33, 38, 34, 36, 32, 35, 38, 34, 37, 40, 33, 36, 38, 34, 40, 37, 35, 42, 36, 38]
WKME_CQL_ON_SD = 6
WKME_IQL_OFF = [0, 80, 85, 88, 92, 95, 98, 99.8, 100, 101, 101.5, 102, 102]
WKME_IQL_OFF_SD = 2
WKME_IQL_ON = [55, 58, 57, 60, 57, 59, 55, 57, 56, 59, 57, 58, 59, 56, 57, 55, 56, 57, 55, 57, 57]
WKME_IQL_ON_SD = 3
WKME_AWAC_OFF = [0, 90, 100, 102, 104, 104.5, 104.7, 104.7, 104.7, 104.7, 104.7, 104.7, 104.7]
WKME_AWAC_OFF_SD = 2
WKME_AWAC_ON = [35, 28, 25, 35, 42, 38, 44, 40, 45, 42, 44, 40, 45, 42, 40, 44, 42, 45, 48, 50, 52]
WKME_AWAC_ON_SD = 6
WKME_PEX_OFF = [0, 55, 60, 72, 88, 95, 97, 98, 99, 100, 100, 101, 101]
WKME_PEX_OFF_SD = 3
WKME_PEX_ON = [30, 22, 10, 12, 28, 38, 45, 48, 55, 52, 58, 55, 58, 52, 57, 55, 56, 55, 60, 57, 62]
WKME_PEX_ON_SD = [5, 5, 8, 8, 10, 8, 8, 8, 6, 6, 6, 6, 6, 6, 6, 6, 6, 6, 6, 6, 6]
WKME_CALQL_OFF = [0, 90, 100, 105, 107, 107.7, 108.3, 108.3, 108.3, 108.3, 108.3, 108.3, 108.3]
WKME_CALQL_OFF_SD = 1
WKME_CALQL_ON = [82, 83, 82, 82, 81.5, 81, 81.5, 81, 81, 81, 81, 81, 80.5, 81, 80.5, 80.5, 80.5, 80.5, 80, 79.5, 80]
WKME_CALQL_ON_SD = 1.5
WKME_MBPO_ON = [2, 3, 8, 12, 13, 15, 14, 15, 13, 15, 16, 17, 18, 22, 28, 32, 35, 38, 42, 45, 50]
WKME_MBPO_ON_SD = [2, 2, 4, 6, 6, 7, 7, 7, 7, 8, 8, 8, 9, 10, 11, 12, 12, 12, 12, 12, 12]

# ---------------------------------------------------------------- layout / styles
FIG_W, FIG_H = 1130, 1610
COL_LEFT = [173.3, 513.3, 852.7]
ROW_TOP = [92.7, 485.0, 877.5, 1269.5]
AX_W, AX_H = 261.5, 300.5
OFF_BG = "#DEEFF5"
ON_BG = "#FDF4DE"
K = 0.0397  # horizontal compression of the offline phase


def fwd(x):
    x = np.asarray(x, dtype=float)
    return np.where(x < 0, x * K, x)


def inv(t):
    t = np.asarray(t, dtype=float)
    return np.where(t < 0, t / K, t)


def series(name, n):
    v = globals()[name]
    return np.broadcast_to(np.asarray(v, dtype=float), (n,)).copy()


fig = plt.figure(figsize=(FIG_W / 100, FIG_H / 100), dpi=100)

off_x = np.asarray(OFF_X, dtype=float)
on_x = np.asarray(ON_X, dtype=float)

for i, (title, ek, step) in enumerate(zip(TITLES, ENV_KEYS, Y_STEPS)):
    r, c = divmod(i, 3)
    rect = [COL_LEFT[c] / FIG_W, 1 - (ROW_TOP[r] + AX_H) / FIG_H, AX_W / FIG_W, AX_H / FIG_H]
    ax = fig.add_axes(rect)
    ax.set_xscale("function", functions=(fwd, inv))
    ax.set_xlim(-1e6, 1e5)
    ax.set_ylim(0, step * 5 * 0.997)
    ax.axvspan(-1e6, 0, color=OFF_BG, lw=0, zorder=0)
    ax.axvspan(0, 1e5, color=ON_BG, lw=0, zorder=0)
    for xv in [-1e6, -5e5, 2e4, 4e4, 6e4, 8e4, 1e5]:
        ax.axvline(xv, color="black", ls="--", lw=0.8, zorder=1)
    for key, col in zip(KEYS, COLORS):
        if key != "MBPO":
            m = series(f"{ek}_{key}_OFF", len(off_x))
            s = series(f"{ek}_{key}_OFF_SD", len(off_x))
            ax.fill_between(off_x, m - s, m + s, color=col, alpha=0.22, lw=0, zorder=2)
            ax.plot(off_x, m, color=col, lw=1.3, zorder=3)
        m = series(f"{ek}_{key}_ON", len(on_x))
        s = series(f"{ek}_{key}_ON_SD", len(on_x))
        ax.fill_between(on_x, m - s, m + s, color=col, alpha=0.22, lw=0, zorder=2)
        ax.plot(on_x, m, color=col, lw=1.3, zorder=3)
    ax.axvline(0, color="black", lw=2.3, zorder=6)
    ax.set_xticks(X_TICKS)
    ax.set_xticklabels(X_TICK_LABELS)
    ax.set_yticks([0, step, 2 * step, 3 * step, 4 * step])
    ax.set_yticklabels([str(v) for v in [0, step, 2 * step, 3 * step, 4 * step]])
    ax.tick_params(labelsize=8.8, length=3.5, width=0.8, pad=2)
    ax.set_title(title, fontsize=10, fontweight="bold", pad=3.5)
    ax.set_xlabel("Number of Training Steps", fontsize=10, fontweight="bold", labelpad=1)
    ax.set_ylabel("Normalized Score", fontsize=10, fontweight="bold", labelpad=3)

handles = [Line2D([], [], color=c, lw=1.3) for c in COLORS]
fig.legend(handles, METHODS, loc="upper center", bbox_to_anchor=(0.5695, 1.0),
           ncol=7, fontsize=12.5, handlelength=2.3, columnspacing=1.75,
           handletextpad=0.8, frameon=True, borderpad=0.4)

for j in range(51):
    yp = 14.8 + 31.85 * j
    fig.text(15 / FIG_W, 1 - yp / FIG_H, str(1242 + j), fontsize=13.3,
             family="Liberation Sans", fontweight="bold", color="#B3B3B3",
             ha="left", va="center")

fig.savefig("out.png", dpi=100)
